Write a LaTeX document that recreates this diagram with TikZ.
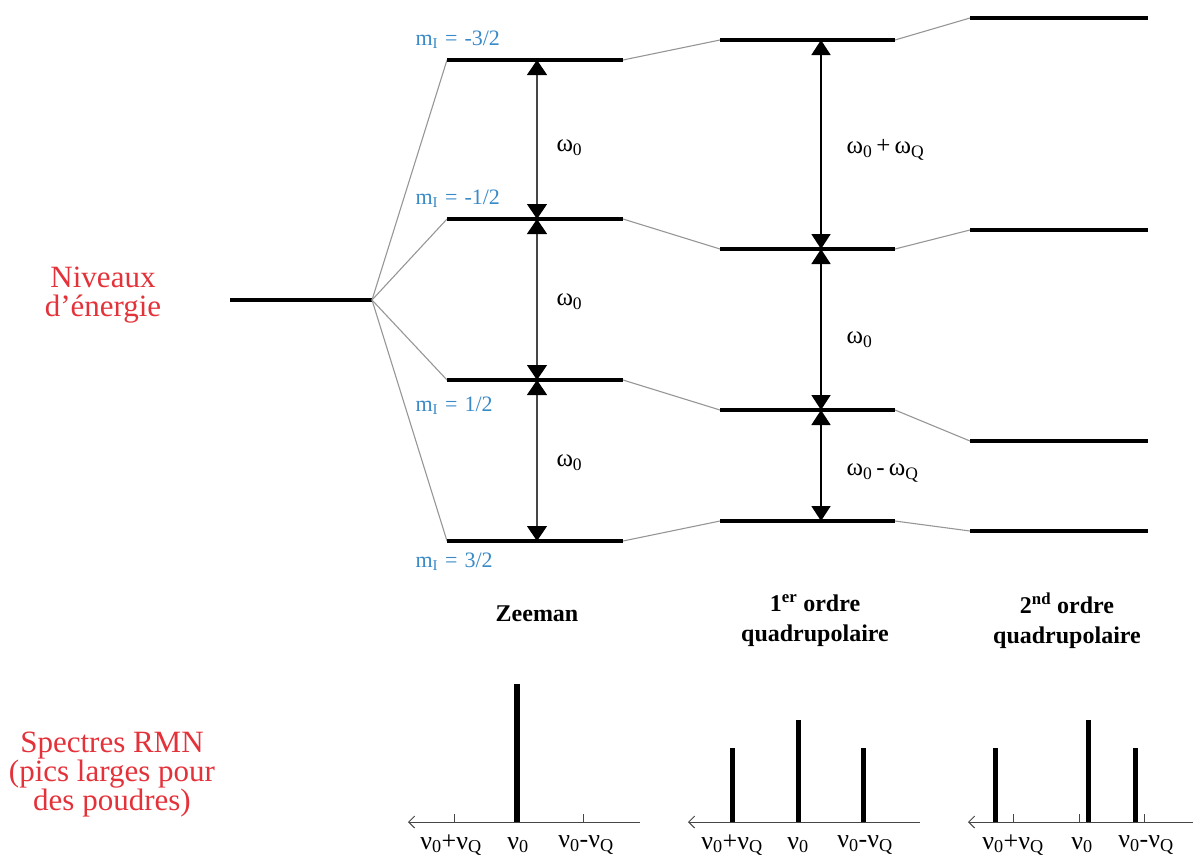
\documentclass[tikz,border=0pt]{standalone}
\usepackage{fontspec}
\setmainfont{Liberation Serif}
\usetikzlibrary{arrows.meta}
\definecolor{lblred}{RGB}{228,50,58}
\definecolor{lblblue}{RGB}{58,138,200}
\definecolor{fangray}{RGB}{150,150,150}
\definecolor{shaftgray}{RGB}{70,70,70}
\newcommand{\mIlabel}[1]{m\textsubscript{\fontsize{15}{15}\selectfont I}\hspace{7pt}=\hspace{7pt}#1}
\begin{document}
\begin{tikzpicture}[x=1pt,y=-1pt,
  lvl/.style={line width=3.5pt},
  fanline/.style={draw=fangray,line width=1.1pt},
  transz/.style={{Triangle[width=20pt,length=15pt,color=black]}-{Triangle[width=20pt,length=15pt,color=black]},draw=shaftgray,line width=1.3pt},
  transq/.style={{Triangle[width=19pt,length=15pt]}-{Triangle[width=19pt,length=15pt]},line width=1.8pt},
  omlbl/.style={anchor=west,font=\fontsize{25}{28}\selectfont},
  mlbl/.style={anchor=west,text=lblblue,font=\fontsize{22}{24}\selectfont},
  redlbl/.style={align=center,text=lblred,font=\fontsize{31}{29}\selectfont},
  boldlbl/.style={align=center,font=\bfseries\fontsize{24}{30}\selectfont},
  nulbl/.style={font=\fontsize{26}{28}\selectfont},
  axis/.style={-{Straight Barb[length=6pt,width=12pt]},line width=1pt,draw=shaftgray},
  peak/.style={line width=5pt},
  tick/.style={line width=1pt,draw=shaftgray}
]
\useasboundingbox (0,0) rectangle (1193,855);

% initial level
\coordinate (i0) at (230,300);
\coordinate (split) at (372,300);
\draw[lvl] (i0) -- (split);

% Zeeman levels
\foreach \n/\y in {1/60,2/219,3/380,4/541}{
  \coordinate (zl\n) at (447,\y);
  \coordinate (zr\n) at (623,\y);
  \coordinate (za\n) at (537,\y);
}
% first order levels
\foreach \n/\y in {1/40,2/249,3/410,4/521}{
  \coordinate (fl\n) at (720,\y);
  \coordinate (fr\n) at (895,\y);
  \coordinate (fa\n) at (821,\y);
}
% second order levels
\foreach \n/\y in {1/18,2/230,3/441,4/531}{
  \coordinate (sl\n) at (970,\y);
  \coordinate (sr\n) at (1148,\y);
}

\foreach \n in {1,2,3,4}{
  \draw[fanline] (split) -- (zl\n);
  \draw[fanline] (zr\n) -- (fl\n);
  \draw[fanline] (fr\n) -- (sl\n);
  \draw[lvl] (zl\n) -- (zr\n);
  \draw[lvl] (fl\n) -- (fr\n);
  \draw[lvl] (sl\n) -- (sr\n);
}

% transitions
\draw[transz] (za1) -- (za2);
\draw[transz] (za2) -- (za3);
\draw[transz] (za3) -- (za4);
\draw[transq] (fa1) -- (fa2);
\draw[transq] (fa2) -- (fa3);
\draw[transq] (fa3) -- (fa4);

\node[omlbl] (w1) at (553,148) {ω\textsubscript{0}};
\node[omlbl] (w2) at (553,302) {ω\textsubscript{0}};
\node[omlbl] (w3) at (553,463) {ω\textsubscript{0}};
\node[omlbl] (w4) at (843,150) {ω\textsubscript{0}\,+\,ω\textsubscript{Q}};
\node[omlbl] (w5) at (843,340) {ω\textsubscript{0}};
\node[omlbl] (w6) at (843,473) {ω\textsubscript{0}\,-\,ω\textsubscript{Q}};

% m_I labels
\node[mlbl] (m1) at (412,40) {\mIlabel{-3/2}};
\node[mlbl] (m2) at (412,199) {\mIlabel{-1/2}};
\node[mlbl] (m3) at (412,406) {\mIlabel{1/2}};
\node[mlbl] (m4) at (412,562) {\mIlabel{3/2}};

% left labels
\node[redlbl] (niv) at (103,295) {Niveaux\\d’énergie};
\node[redlbl] (spec) at (112,775) {Spectres RMN\\(pics larges pour\\des poudres)};

% column titles
\node[boldlbl] (zee) at (537,614) {Zeeman};
\node[boldlbl] (ord1) at (815,621) {1\textsuperscript{er} ordre\\quadrupolaire};
\node[boldlbl] (ord2) at (1067,621) {2\textsuperscript{nd} ordre\\quadrupolaire};

% spectra: Zeeman
\coordinate (za0) at (640,822); \coordinate (za9) at (408,822);
\draw[axis] (za0) -- (za9);
\coordinate (zt1) at (454,822); \coordinate (zt2) at (517,822); \coordinate (zt3) at (583,822);
\draw[tick] (zt1) -- ++(0,-8);
\draw[tick] (zt3) -- ++(0,-8);
\coordinate (zp) at (517,684);
\draw[peak,line width=6pt] (zt2) -- (zp);
\node[nulbl] (zn1) at (451,845) {ν\textsubscript{0}+ν\textsubscript{Q}};
\node[nulbl] (zn2) at (518,845) {ν\textsubscript{0}};
\node[nulbl] (zn3) at (586,845) {ν\textsubscript{0}-ν\textsubscript{Q}};

% spectra: first order
\coordinate (fa0) at (920,822); \coordinate (fa9) at (688,822);
\draw[axis] (fa0) -- (fa9);
\coordinate (ft1) at (732,822); \coordinate (ft2) at (798,822); \coordinate (ft3) at (863,822);
\coordinate (fp1) at (732,748); \coordinate (fp2) at (798,720); \coordinate (fp3) at (863,748);
\draw[peak] (ft1) -- (fp1);
\draw[peak] (ft2) -- (fp2);
\draw[peak] (ft3) -- (fp3);
\node[nulbl] (fn1) at (732,845) {ν\textsubscript{0}+ν\textsubscript{Q}};
\node[nulbl] (fn2) at (798,845) {ν\textsubscript{0}};
\node[nulbl] (fn3) at (865,845) {ν\textsubscript{0}-ν\textsubscript{Q}};

% spectra: second order
\coordinate (sa0) at (1193,822); \coordinate (sa9) at (968,822);
\draw[axis] (sa0) -- (sa9);
\coordinate (st1) at (1013,822); \coordinate (st2) at (1079,822); \coordinate (st3) at (1144,822);
\draw[tick] (st1) -- ++(0,-8);
\draw[tick] (st2) -- ++(0,-8);
\draw[tick] (st3) -- ++(0,-8);
\coordinate (sb1) at (995,822); \coordinate (sb2) at (1088,822); \coordinate (sb3) at (1135,822);
\coordinate (sp1) at (995,748); \coordinate (sp2) at (1088,720); \coordinate (sp3) at (1135,748);
\draw[peak] (sb1) -- (sp1);
\draw[peak] (sb2) -- (sp2);
\draw[peak] (sb3) -- (sp3);
\node[nulbl] (sn1) at (1013,845) {ν\textsubscript{0}+ν\textsubscript{Q}};
\node[nulbl] (sn2) at (1082,845) {ν\textsubscript{0}};
\node[nulbl] (sn3) at (1146,845) {ν\textsubscript{0}-ν\textsubscript{Q}};
\end{tikzpicture}
\end{document}
